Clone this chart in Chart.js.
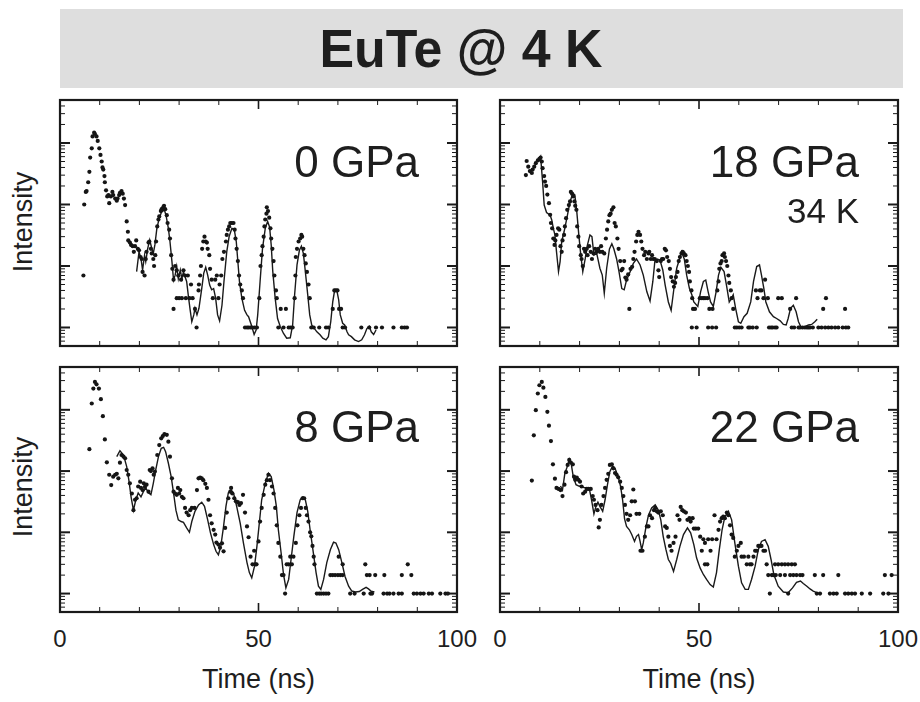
<!DOCTYPE html>
<html lang="en">
<head>
<meta charset="UTF-8">
<title>EuTe @ 4 K</title>
<script src="https://cdn.jsdelivr.net/npm/chart.js"></script>
<style>
  body { margin: 0; background: #fff; }
  #page {
    position: relative; width: 920px; height: 702px; overflow: hidden;
    font-family: "Liberation Sans", Arial, sans-serif; color: #1e1e1e;
  }
  #banner { position: absolute; left: 60px; top: 9px; width: 843px; height: 79px; background: #dedede; }
  #title {
    position: absolute; left: 1px; top: 21px; width: 920px; text-align: center;
    font-size: 54px; line-height: 54px; font-weight: bold; transform: scaleX(0.96);
  }
  canvas { position: absolute; }
  .lbl { position: absolute; white-space: nowrap; }
</style>
</head>
<body>
<div id="page">
  <div id="banner"></div>
  <div id="title">EuTe @ 4 K</div>
</div>

<script>
// ---- data: [time (ns), intensity (counts)] ----
const dots0 = [[5.9,7],[6.1,100],[6.5,160],[6.7,165],[7.1,230],[7.4,340],[7.6,580],[8,820],[8.2,1280],[8.6,1470],[8.8,1400],[9.2,1280],[9.5,1080],[9.9,820],[10.2,640],[10.5,500],[10.7,400],[10.9,370],[11.2,290],[11.3,230],[11.6,170],[11.9,135],[12.2,142],[12.4,105],[12.8,135],[13.2,160],[13.4,142],[13.9,125],[14.3,115],[14.5,125],[14.9,142],[15.1,155],[15.5,165],[15.8,150],[16.1,125],[16.4,98],[16.8,53],[17.1,36],[17.2,26],[17.6,24],[17.9,22],[18.3,21],[18.6,17],[18.9,21],[19.2,26],[19.6,19],[19.9,18],[20.3,14],[20.6,13],[20.8,8],[21.3,7],[21.6,13],[21.8,17],[22.3,24],[22.5,25],[22.9,19],[23.1,16],[23.5,13],[23.7,10],[24,15],[24.2,25],[24.5,44],[24.8,57],[25,64],[25.4,78],[25.6,84],[26,90],[26.2,95],[26.5,84],[26.9,67],[27.1,50],[27.5,39],[27.7,28],[28,15],[28.3,9],[28.6,6],[28.6,2],[29,10],[29.4,8.5],[29.4,3],[29.8,7],[30,3],[30.5,6],[30.7,3],[31.1,8.5],[31.5,7],[31.7,3],[32.2,7],[32.6,3],[33,5],[33.4,3],[34,2],[34.4,1],[34.9,4],[35,5],[35.3,7],[35.5,10],[35.8,19],[36.1,25],[36.4,30],[36.7,25],[37,24],[37.2,19],[37.6,15],[37.8,9],[38.2,6],[38.5,3],[39.1,6],[39.5,7],[39.9,3],[40.2,5],[40.6,7],[40.9,13],[41.3,17],[41.8,25],[42,32],[42.3,39],[42.6,44],[42.9,50],[43.3,50],[43.7,50],[44,39],[44.2,28],[44.5,19],[44.8,12],[45.1,7],[45.4,5],[45.8,4],[46.1,3],[46.6,1],[47.1,1],[47.5,1],[48,1],[48.4,1],[49,1],[49.6,1],[50.2,3],[50.5,10],[50.8,15],[51,21],[51.3,30],[51.5,44],[51.7,57],[52,71],[52.1,90],[52.4,78],[52.7,61],[53,41],[53.2,28],[53.5,19],[53.8,12],[54,7],[54.4,4],[54.6,3],[55,1],[55.6,2],[56.3,1],[56.9,2],[57.6,1],[58.1,1],[58.6,1],[59.1,3],[59.3,7],[59.4,14],[59.7,19],[60.1,25],[60.5,28],[60.8,32],[61,30],[61.3,19],[61.6,15],[61.9,11],[62.2,8],[62.6,5],[62.9,3],[63.3,1],[63.9,1],[65.3,1],[67,1],[67.6,1],[68.7,2],[69.1,4],[69.5,4],[69.9,4],[70.3,2],[70.8,2],[71.2,1],[71.8,1],[75.9,1],[77.9,1],[79.6,1],[81.1,1],[84,1],[86.1,1],[86.8,1],[87.4,1]];
const fit0 = [[19.3,8.1],[19.9,17],[20.4,13.3],[20.8,8.6],[21.3,15],[21.6,11.8],[22.1,19.4],[22.6,26.5],[23.1,19.4],[23.5,16],[23.9,22],[24.4,41],[25,60],[25.6,76],[26.3,81],[26.7,67],[27.3,41],[27.7,25],[28.2,11.8],[28.6,5.9],[29,7.1],[29.4,9.8],[29.8,6.2],[30.3,8.6],[30.7,6.2],[31.1,8.1],[31.5,6.7],[31.9,5.6],[32.4,3],[32.8,1.9],[33.2,1.24],[33.7,1.6],[34,2.05],[34.5,1.6],[35,2.05],[35.7,4.3],[36.2,7.6],[36.7,9.5],[37.2,7.1],[37.7,4.9],[38.2,4.1],[38.7,4.3],[39.2,3],[39.7,1.6],[40.2,1.28],[40.8,2.3],[41.3,5.6],[42,17],[42.6,30],[43.3,41],[43.9,39],[44.4,25],[44.8,11.8],[45.2,5.6],[45.8,3],[46.5,1.9],[47.1,1.6],[47.5,1.5],[48.2,1.1],[48.9,0.77],[49.4,0.91],[49.8,1.6],[50.4,5.6],[51,19],[51.7,41],[52.3,53],[52.8,43],[53.2,22],[53.6,8.1],[54.2,3],[54.8,1.4],[55.5,1.03],[56.3,0.8],[57.1,0.67],[58,0.68],[58.6,1.1],[59.1,3.4],[59.7,10.4],[60.3,18],[60.8,21],[61.3,16],[61.8,8.1],[62.4,3.4],[62.9,1.6],[63.4,1.1],[64.1,0.96],[64.7,0.85],[65.5,0.76],[66.2,0.67],[67,0.63],[67.6,0.71],[68.2,1.24],[68.7,2.6],[69.2,4.1],[69.7,4.1],[70.2,2.8],[70.6,1.6],[71.2,1.17],[71.7,1.1],[72.3,0.85],[72.7,0.76],[73.4,0.71],[74.2,0.63],[75.2,0.59],[76,0.63],[76.7,0.76],[77.3,0.96],[77.9,1.05],[78.4,0.85],[79,0.77],[79.6,0.91]];

const dots18 = [[6.5,301],[6.7,509],[7.1,412],[7.5,350],[8,325],[8.2,370],[8.6,412],[9,470],[9.5,520],[9.9,550],[10.2,580],[10.5,500],[10.7,390],[11.1,290],[11.3,236],[11.6,200],[11.9,145],[12.3,105],[12.6,68],[12.8,50],[13.1,41],[13.4,28],[13.7,22],[13.9,26],[14.2,32],[14.6,41],[14.9,39],[15.2,21],[15.5,17],[15.7,26],[16.1,32],[16.3,44],[16.6,60],[16.9,82],[17.3,98],[17.6,112],[17.8,160],[18.1,150],[18.4,135],[18.7,112],[18.9,95],[19.2,82],[19.4,44],[19.7,30],[19.9,21],[20.3,15],[20.5,13],[20.8,10],[21.1,19],[21.4,17],[21.8,19],[22,15],[22.4,21],[22.8,17],[23.1,13],[23.5,16],[23.9,19],[24.3,17],[24.7,19],[25.1,17],[25.4,21],[25.7,17],[26.2,16],[26.6,28],[26.9,39],[27.2,53],[27.5,67],[27.8,71],[28.1,82],[28.5,90],[28.8,50],[29.1,44],[29.5,28],[29.8,19],[30.2,12],[30.5,8.5],[30.8,9],[31.2,12],[31.5,6.5],[31.8,6],[32.2,7.3],[32.5,2],[32.8,9],[33.2,9.7],[33.5,13],[33.8,17],[34.2,25],[34.5,32],[34.8,36],[35.2,32],[35.5,25],[35.8,19],[36.2,15],[36.5,17],[36.9,13],[37.3,16],[37.5,17],[37.9,13],[38.2,15],[38.5,13],[38.9,13],[39.4,12],[39.8,8.5],[40,6.6],[40.4,12],[40.7,13],[41,13],[41.4,19],[41.7,18],[42,14],[42.4,12],[42.7,9],[43,6.6],[43.4,5.6],[43.7,4.6],[44,5.3],[44.2,6.6],[44.6,8],[44.9,12],[45.2,14],[45.6,16],[45.9,17],[46.2,16],[46.6,15],[46.9,12],[47.2,10],[47.5,8],[47.7,5.6],[48.1,4],[48.3,3],[48.5,2],[48.2,1],[49.4,1],[49,2],[50.2,3],[50.7,3],[51.1,3],[51.5,3],[52.1,3],[52.6,2],[53.4,2],[52.3,1],[53.3,1],[54.3,1],[54.6,4],[54.9,5.6],[55.1,9],[55.4,11],[55.7,12],[55.9,15],[56.3,16],[56.5,14],[56.8,12],[57.1,10],[57.4,7],[57.6,5.3],[58,4],[58.2,3],[58.6,2],[59,1],[59.5,1],[60.1,1],[60.7,1],[62.4,1],[62.8,1],[63.5,1],[64.5,1],[64.3,4],[64.7,3],[65.3,4],[65.7,4],[66.2,3],[66.6,6],[67.3,3],[67.6,1],[68.1,1],[68.5,1],[69.1,1],[69.5,1],[69.9,3],[70.8,3],[72.9,2],[73.3,1],[73.9,1],[74.4,3],[75,1],[75.4,1],[76,1],[76.6,1],[77.1,1],[77.5,1],[77.9,1],[78.6,1],[80,1],[80.8,1],[81.7,1],[82.5,1],[83.3,1],[84.2,1],[85,1],[86.1,1],[86.9,1],[87.5,1],[81.2,2],[81.9,3],[86.7,2]];
const fit18 = [[9.6,497],[10.2,600],[10.7,235],[11.1,98],[11.7,74],[12.6,67],[13,56],[13.4,41],[13.8,32],[14.2,17],[14.7,8.1],[15.1,11.8],[15.5,25],[16.1,36],[16.8,60],[17.6,111],[18.3,152],[18.8,143],[19.3,76],[19.8,32],[20.3,15],[20.8,8.1],[21.4,13],[21.9,21],[22.6,32],[23.1,30],[23.6,15],[24.3,16],[25.1,9.2],[25.7,7.1],[26.2,3.6],[26.8,9.2],[27.5,19],[28.1,23],[28.6,19],[29.3,13],[29.9,8.1],[30.6,4.3],[31.2,4.1],[31.8,5.9],[32.7,8.1],[33.5,11],[34.3,13],[35.2,10.4],[36,7.1],[36.9,3.8],[37.7,2.7],[38.4,5.6],[38.9,11.8],[39.5,13],[40.2,12.5],[40.9,8.6],[41.5,4.9],[42.3,2.6],[43,1.9],[43.7,4.3],[44.4,9.2],[45.1,13],[45.6,17],[46.3,13],[46.9,7.1],[47.6,4.3],[48.2,3.4],[48.7,2.6],[49.7,2.2],[50.4,3.8],[51.1,5.6],[51.7,5.9],[52.3,3.8],[52.9,2.6],[53.6,2.2],[54.3,3.8],[54.9,7.1],[55.5,9.5],[56.3,8.1],[56.9,4.9],[57.6,2.6],[58.2,3],[58.6,3.4],[59.2,2.05],[59.9,1.24],[60.5,1.17],[61.3,1.5],[62.1,1.7],[63,2.6],[63.7,5.6],[64.5,9.8],[65.2,10.4],[65.7,7.1],[66.3,4.3],[66.8,2.6],[67.7,1.8],[68.7,1.5],[69.5,1.4],[70.4,1.28],[71.2,1.12],[71.9,1.1],[72.4,1.4],[73,2.05],[73.7,2.3],[74.4,1.8],[75,1.24],[75.6,1.03],[76.6,1.03],[77.5,1.1],[78.3,1.12],[79.1,1.24],[79.7,1.36]];

const dots8 = [[7.4,228],[8,1267],[8.4,2220],[8.8,2850],[9.2,2610],[9.8,2220],[10.3,1490],[10.8,788],[11.3,329],[11.8,139],[12.4,87],[12.9,59],[13.4,81],[13.9,87],[14.3,90],[14.7,76],[15.1,137],[15.5,183],[16,172],[16.4,162],[16.8,104],[17.2,87],[17.6,63],[18.1,43],[18.5,23],[18.9,34],[19.3,36],[19.7,56],[20.2,67],[20.4,53],[20.8,49],[21.1,63],[21.4,55],[21.8,60],[22.3,46],[22.6,104],[22.9,100],[23.3,111],[23.6,87],[23.9,98],[24.5,183],[25,266],[25.5,342],[25.9,372],[26.3,400],[26.9,390],[27.3,302],[27.7,172],[28.2,76],[28.6,46],[29,43],[29.4,41],[29.7,53],[30,43],[30.3,49],[30.7,38],[31.1,36],[31.5,25],[31.9,21],[32.4,19],[32.8,23],[33.2,25],[33.9,25],[34.5,49],[34.9,76],[35.3,78],[35.7,76],[36.1,71],[36.6,62],[37,53],[37.4,34],[37.8,19],[38.2,14],[38.7,11],[39.1,9.2],[39.4,6.8],[39.9,6.3],[40.3,5.6],[40.8,6.6],[41.2,4.9],[41.6,11.8],[42,21],[42.4,36],[42.9,46],[43.1,53],[43.4,43],[43.9,36],[44.3,32],[44.8,31],[45.2,28],[45.6,30],[46.1,41],[46.6,21],[47.1,12.5],[47.5,8.3],[48,4],[48.5,3],[48.9,5],[49.2,3],[49.5,3],[50,7.1],[50.4,15],[50.8,25],[51.3,41],[51.7,60],[52.1,71],[52.5,87],[52.9,71],[53.4,56],[53.8,43],[54.2,25],[54.6,13],[55,6.7],[55.5,4],[55.9,2],[56.3,2],[56.7,1],[57.1,3],[57.6,3],[58,4],[58.4,3],[58.8,4],[59.4,6.7],[59.8,13],[60.3,19],[60.7,25],[61.1,36],[61.5,36],[61.9,25],[62.2,19],[62.6,15],[63,10],[63.3,8.6],[63.6,6],[63.9,4],[64.1,3],[64.7,1],[65.3,1],[65.8,1],[66.4,1],[67,1],[67.6,1],[68.1,2],[68.7,2],[69.3,2],[70,2],[70.6,2],[71.2,2],[70.2,4],[71.2,3],[73.1,1],[74.2,1],[76.5,1],[78.2,1],[78.6,1],[76.9,3],[77.3,2],[78,2],[79.4,2],[81.7,2],[81.5,1],[82.4,1],[83,1],[84,1],[85.3,1],[86.1,1],[86.1,2],[87.6,3],[88.5,2],[89.1,1],[89.9,1],[90.8,1],[91.6,1],[92.9,1],[93.7,1],[95.8,1],[97.1,1],[97.7,1]];
const fit8 = [[14.3,172],[15.1,215],[16,183],[16.8,118],[17.4,67],[17.9,38],[18.5,23],[19.1,34],[19.7,44],[20.4,38],[21,46],[21.6,53],[22.3,44],[22.9,41],[23.5,63],[24.1,104],[24.8,172],[25.5,235],[26.1,244],[26.6,207],[27.3,134],[28,81],[28.6,44],[29.2,23],[29.8,16],[30.5,15],[31.1,14.5],[31.9,11.8],[32.6,10],[33.2,15],[34,22],[34.9,28],[35.7,31],[36.4,26.5],[37.2,16],[37.9,9.8],[38.7,6.3],[39.3,4.9],[39.9,4.3],[40.5,5.9],[41.2,12.5],[41.8,26.5],[42.4,44],[43.1,49],[43.7,44],[44.5,26.5],[45.4,14],[46.2,6.7],[47.1,3.2],[47.7,2.2],[48.3,1.8],[49,2.8],[49.6,5.9],[50.2,14],[50.8,34],[51.7,63],[52.5,92],[53.2,81],[53.9,49],[54.5,26.5],[55,11],[55.7,4.6],[56.3,2.05],[56.9,1.24],[57.6,1.7],[58.2,3.6],[58.9,8.6],[59.7,21],[60.5,34],[61.2,38],[61.8,34],[62.4,22],[63,11],[63.7,5.2],[64.5,2.2],[65.1,1.32],[65.7,1.17],[66.4,1.7],[67.2,3.2],[68.1,5.2],[68.9,6.9],[69.5,6.7],[70.2,5.2],[71,3.2],[71.8,1.9],[72.7,1.32],[73.5,1.1],[74.4,1.06],[75.4,1.08],[76.2,1.17],[77.1,1.26],[77.7,1.19],[78.4,1.09],[79.2,1.06]];

const dots22 = [[8,70],[8.5,383],[9,986],[9.5,1845],[9.9,2520],[10.5,2850],[10.9,2300],[11.4,1626],[11.9,927],[12.3,550],[12.8,309],[13.3,129],[13.8,75],[14.2,53],[14.7,51],[15.2,49],[15.7,39],[16.2,60],[16.6,96],[17,126],[17.4,152],[17.8,138],[18.3,129],[18.6,81],[18.9,72],[19.3,78],[19.7,72],[20.1,67],[20.5,56],[20.9,43],[21.4,46],[21.8,51],[22.2,51],[22.8,51],[23.3,39],[23.6,34],[24,28],[24.5,23],[24.8,12],[25.1,16],[25.5,28],[26,39],[26.4,53],[26.8,72],[27.2,90],[27.6,126],[28.1,129],[28.5,111],[28.9,93],[29.3,87],[29.7,79],[30.2,67],[30.6,53],[31,39],[31.4,28],[31.8,20],[32.2,16],[32.7,19],[33.1,32],[33.5,50],[33.9,32],[34.3,20],[35,20],[35.3,5],[35.8,5],[36.4,8.5],[36.9,12.5],[37.3,12.5],[37.7,19],[38.2,17],[38.7,23],[39,25],[39.4,22],[39.8,21],[40.4,22],[40.9,19],[41.5,12.5],[41.9,11.8],[42.3,8.5],[42.7,6],[43.1,5],[43.6,6.7],[44.1,8.5],[44.6,19],[45.1,16],[45.4,26],[45.8,23],[46.2,22],[46.7,21],[47.1,16],[47.6,17],[47.9,15],[48.4,17],[48.7,11.5],[49.2,11.5],[49.8,11.5],[50.3,8.5],[50.7,5],[51.1,7.7],[51.5,6.7],[51.5,3],[52.1,3],[52.3,7.7],[52.9,5],[53.3,7.7],[53.9,19],[54.4,7.7],[54.9,11],[55.3,15],[55.7,17],[56.1,18],[56.5,17],[57,21],[57.4,19],[57.8,13],[58.2,9.2],[58.6,8.1],[59,4],[59.5,5],[59.9,6],[60.5,6.7],[60.7,4],[61.3,4],[62,3],[62.4,4],[62.8,3],[63.2,3],[63.7,4],[64.1,5],[64.5,5],[64.9,6],[65.3,6],[65.7,6],[66.2,5],[66.6,5],[67,3],[67.4,2],[67.8,1],[68.3,2],[68.7,2],[69.3,2],[70.4,2],[71.6,2],[72.9,2],[73.7,2],[74.5,2],[75.4,2],[76,2],[69.1,3],[69.9,3],[70.8,3],[71.6,3],[72.4,3],[73.3,3],[74.1,3],[72.4,1],[79.1,2],[81.2,2],[85,2],[79.6,1],[80.4,1],[82.9,1],[83.8,1],[84.6,1],[86.7,1],[87.5,1],[88.4,1],[89.2,1],[90.9,1],[93,1],[96.3,1],[97.6,1],[96.7,2],[98.4,2]];
const fit22 = [[15.2,57],[15.7,49],[16.3,92],[16.9,118],[17.4,156],[17.9,131],[18.4,81],[19.1,60],[19.8,57],[20.4,56],[21.1,54],[21.8,53],[22.4,53],[23,34],[23.6,20],[24.1,26.5],[24.6,31],[25.1,26.5],[25.8,22],[26.4,34],[27,60],[27.6,98],[28.3,121],[28.9,111],[29.7,81],[30.3,56],[30.8,34],[31.3,16.5],[31.8,12.5],[32.5,11],[33.1,9.2],[33.8,7.1],[34.3,8.6],[34.8,9.2],[35.2,7.1],[35.6,5.2],[36,6.7],[36.7,12.5],[37.3,19],[38.1,25],[39,28],[39.8,23],[40.4,16],[41,8.6],[41.7,5.2],[42.3,3.6],[42.9,3.1],[43.6,2.3],[44.4,3.6],[45.2,5.9],[46.1,9.2],[47.1,11.8],[47.9,9.8],[48.7,6.3],[49.4,3.8],[50.3,2.6],[51.1,2.05],[51.9,1.7],[52.8,1.4],[53.6,1.28],[54.4,2.2],[55.1,5.2],[55.8,11],[56.5,18],[57.4,22],[58.2,16],[59,6.7],[59.9,2.8],[60.7,1.5],[61.6,1.17],[62.4,1.17],[63.2,1.7],[64.1,2.8],[64.9,5.2],[65.7,7.1],[66.6,7.6],[67.4,5.9],[68.1,3.6],[68.8,2.05],[69.9,1.32],[71.2,1.06],[72.4,1.03],[73.5,1.24],[74.5,1.53],[75.5,1.6],[76.2,1.46],[77.1,1.32],[77.9,1.19],[78.7,1.1],[79.7,1.03]];

// ---- axes / labels ----
const panelLabels = ['0 GPa', '18 GPa', '8 GPa', '22 GPa'];
const extraLabel = '34 K';
const xTickLabels = [0, 50, 100];
const xMinorTicks = [10, 20, 30, 40, 60, 70, 80, 90];
const xMajorTicks = [50];
const yDecades = [1, 10, 100, 1000];
const yMinorSteps = [2, 3, 4, 5, 6, 7, 8, 9];
const xTitle = 'Time (ns)';
const yTitle = 'Intensity';

const PAD = 4;
const page = document.getElementById('page');

// draw the closed frame with inward ticks on all four sides
const framePlugin = {
  id: 'frame',
  afterDraw(chart) {
    const { ctx, chartArea: a, scales: { x, y } } = chart;
    ctx.save();
    ctx.strokeStyle = '#1a1a1a';
    const seg = (x1, y1, x2, y2, w) => {
      ctx.lineWidth = w;
      ctx.beginPath(); ctx.moveTo(x1, y1); ctx.lineTo(x2, y2); ctx.stroke();
    };
    xMinorTicks.forEach(v => {
      const px = x.getPixelForValue(v);
      seg(px, a.top, px, a.top + 5, 1);
      seg(px, a.bottom, px, a.bottom - 5, 1);
    });
    xMajorTicks.forEach(v => {
      const px = x.getPixelForValue(v);
      seg(px, a.top, px, a.top + 9, 1.6);
      seg(px, a.bottom, px, a.bottom - 9, 1.6);
    });
    [0.1, 1, 10, 100, 1000].forEach(d => yMinorSteps.forEach(k => {
      const v = d * k;
      if (v <= y.min || v >= y.max) return;
      const py = y.getPixelForValue(v);
      seg(a.left, py, a.left + 5, py, 1);
      seg(a.right, py, a.right - 5, py, 1);
    }));
    yDecades.forEach(v => {
      const py = y.getPixelForValue(v);
      seg(a.left, py, a.left + 10, py, 2);
      seg(a.right, py, a.right - 10, py, 2);
    });
    ctx.lineWidth = 2.2;
    ctx.strokeRect(a.left, a.top, a.right - a.left, a.bottom - a.top);
    ctx.restore();
  }
};

function addLabel(text, css) {
  const d = document.createElement('div');
  d.className = 'lbl';
  d.textContent = text;
  Object.assign(d.style, css);
  page.appendChild(d);
  return d;
}

function makePanel(rect, dots, fit) {
  const cv = document.createElement('canvas');
  cv.width = rect.r - rect.l + 2 * PAD;
  cv.height = rect.b - rect.t + 2 * PAD;
  cv.style.left = (rect.l - PAD) + 'px';
  cv.style.top = (rect.t - PAD) + 'px';
  page.appendChild(cv);
  return new Chart(cv, {
    type: 'scatter',
    data: {
      datasets: [
        {
          data: dots.map(p => ({ x: p[0], y: p[1] })),
          backgroundColor: '#151515',
          borderWidth: 0,
          pointRadius: 2.1
        },
        {
          data: fit.map(p => ({ x: p[0], y: p[1] })),
          showLine: true,
          borderColor: '#1a1a1a',
          borderWidth: 1.4,
          pointRadius: 0,
          tension: 0
        }
      ]
    },
    options: {
      responsive: false,
      animation: false,
      events: [],
      layout: { padding: PAD },
      plugins: { legend: { display: false }, tooltip: { enabled: false } },
      scales: {
        x: { type: 'linear', min: 0, max: 100, display: false },
        y: { type: 'logarithmic', min: 0.5, max: 5000, display: false }
      }
    },
    plugins: [framePlugin]
  });
}

const rects = [
  { l: 60, t: 100, r: 457, b: 346 },
  { l: 500, t: 100, r: 898, b: 346 },
  { l: 60, t: 367, r: 457, b: 612 },
  { l: 500, t: 367, r: 898, b: 612 }
];
const charts = [
  makePanel(rects[0], dots0, fit0),
  makePanel(rects[1], dots18, fit18),
  makePanel(rects[2], dots8, fit8),
  makePanel(rects[3], dots22, fit22)
];

// panel captions (44px, baseline 177 / 442)
const big = { fontSize: '44px', lineHeight: '44px' };
addLabel(panelLabels[0], { ...big, right: '501px', top: '140px' });
addLabel(panelLabels[1], { ...big, right: '61px', top: '140px' });
addLabel(panelLabels[2], { ...big, right: '501px', top: '405px' });
addLabel(panelLabels[3], { ...big, right: '61px', top: '405px' });
addLabel(extraLabel, { fontSize: '35px', lineHeight: '35px', right: '61px', top: '193px' });

// x tick labels placed through each bottom chart's x scale
[2, 3].forEach(i => {
  const ch = charts[i];
  const left0 = rects[i].l - PAD;
  xTickLabels.forEach(v => {
    const px = left0 + ch.scales.x.getPixelForValue(v);
    addLabel(String(v), {
      fontSize: '24px', lineHeight: '24px', left: px + 'px', top: '627px',
      transform: 'translateX(-50%)'
    });
  });
  const mid = left0 + ch.scales.x.getPixelForValue(50);
  addLabel(xTitle, {
    fontSize: '27px', lineHeight: '27px', left: mid + 'px', top: '666px',
    transform: 'translateX(-50%)'
  });
});

// y axis titles, rotated
[[0, 222], [2, 487]].forEach(([i, cy]) => {
  addLabel(yTitle, {
    fontSize: '27px', lineHeight: '27px', left: '23px', top: cy + 'px',
    transform: 'translate(-50%, -50%) rotate(-90deg)'
  });
});
</script>
</body>
</html>
